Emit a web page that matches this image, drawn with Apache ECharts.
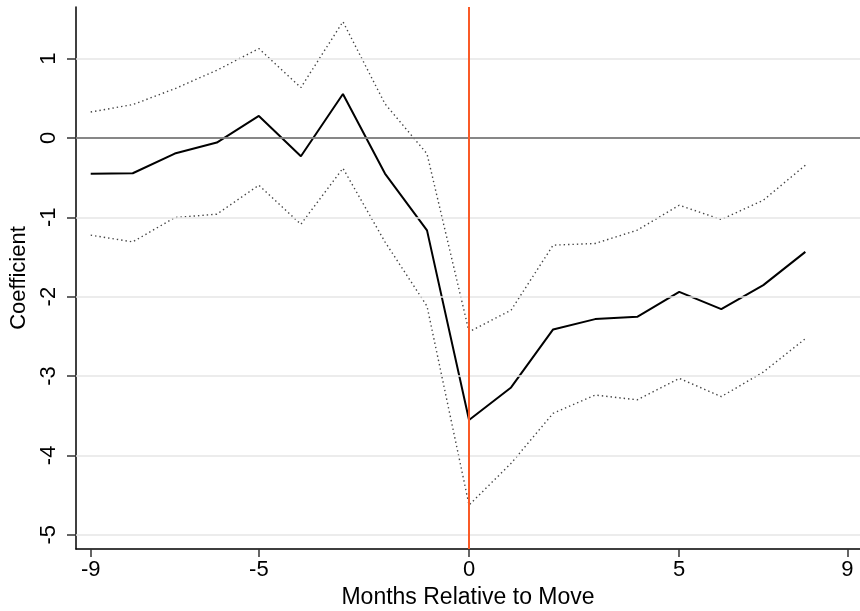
<!DOCTYPE html>
<html>
<head>
<meta charset="utf-8">
<script src="https://cdn.jsdelivr.net/npm/echarts@6/dist/echarts.min.js"></script>
<style>
  html, body { margin: 0; padding: 0; background: #fff; }
  #chart { width: 860px; height: 611px; }
</style>
</head>
<body>
<div id="chart"></div>
<script>
// Event-study estimates: months relative to a move, point estimate and confidence bounds
const months = [-9, -8, -7, -6, -5, -4, -3, -2, -1, 0, 1, 2, 3, 4, 5, 6, 7, 8];
const coefficient = [-0.45, -0.445, -0.197, -0.058, 0.277, -0.23, 0.554, -0.449, -1.165,
                     -3.555, -3.144, -2.413, -2.283, -2.254, -1.939, -2.157, -1.855, -1.436];
const upperBound = [0.327, 0.42, 0.62, 0.853, 1.126, 0.635, 1.465, 0.43, -0.2,
                    -2.443, -2.17, -1.351, -1.33, -1.162, -0.848, -1.028, -0.785, -0.344];
const lowerBound = [-1.225, -1.31, -1.003, -0.961, -0.596, -1.087, -0.382, -1.31, -2.12,
                    -4.626, -4.10, -3.47, -3.24, -3.30, -3.03, -3.26, -2.95, -2.53];
const xTicks = [-9, -5, 0, 5, 9];
const yTicks = [1, 0, -1, -2, -3, -4, -5];
const eventMonth = 0;
const referenceLevel = 0;

const pairs = ys => months.map((m, i) => [m, ys[i]]);
const FONT = '"Liberation Sans", Arial, sans-serif';

const chart = echarts.init(document.getElementById('chart'), null, { renderer: 'canvas' });

const option = {
  animation: false,
  backgroundColor: '#ffffff',
  grid: { left: 76, right: 0, top: 7, bottom: 62, containLabel: false, outerBoundsMode: 'none' },
  xAxis: {
    type: 'value',
    min: -9.35,
    max: 9.3,
    name: 'Months Relative to Move',
    nameLocation: 'middle',
    nameGap: 35,
    nameTextStyle: { fontFamily: FONT, fontSize: 23, color: '#000' },
    axisLine: { onZero: false, lineStyle: { color: '#000', width: 1.5 } },
    axisTick: { customValues: xTicks, length: 8, lineStyle: { color: '#333', width: 1.5 } },
    axisLabel: { customValues: xTicks, fontFamily: FONT, fontSize: 22, color: '#000', margin: 10 },
    splitLine: { show: false }
  },
  yAxis: {
    type: 'value',
    min: -5.18,
    max: 1.65,
    name: 'Coefficient',
    nameLocation: 'middle',
    nameGap: 39,
    nameRotate: 90,
    nameTextStyle: { fontFamily: FONT, fontSize: 22, color: '#000' },
    axisLine: { onZero: false, lineStyle: { color: '#000', width: 1.5 } },
    axisTick: { customValues: yTicks, length: 9, lineStyle: { color: '#333', width: 1.5 } },
    axisLabel: { customValues: yTicks, rotate: 90, fontFamily: FONT, fontSize: 22, color: '#000', margin: 16 },
    splitLine: { show: false }
  },
  series: [
    {
      // horizontal gridlines at the labelled ticks
      type: 'line',
      data: [],
      silent: true,
      z: 1,
      markLine: {
        silent: true,
        symbol: ['none', 'none'],
        label: { show: false },
        lineStyle: { color: '#e6e6e6', width: 1.5, type: 'solid' },
        data: yTicks.map(v => ({ yAxis: v }))
      }
    },
    {
      // zero reference line and the month-of-move marker
      type: 'line',
      data: [],
      silent: true,
      z: 2,
      markLine: {
        silent: true,
        symbol: ['none', 'none'],
        label: { show: false },
        data: [
          { yAxis: referenceLevel, lineStyle: { color: '#666666', width: 1.5, type: 'solid' } },
          { xAxis: eventMonth, lineStyle: { color: '#fa5a26', width: 2, type: 'solid' } }
        ]
      }
    },
    {
      name: 'Upper bound',
      type: 'line',
      data: pairs(upperBound),
      showSymbol: false,
      z: 3,
      lineStyle: { color: '#444444', width: 1.4, type: [1.4, 3] }
    },
    {
      name: 'Lower bound',
      type: 'line',
      data: pairs(lowerBound),
      showSymbol: false,
      z: 3,
      lineStyle: { color: '#444444', width: 1.4, type: [1.4, 3] }
    },
    {
      name: 'Coefficient',
      type: 'line',
      data: pairs(coefficient),
      showSymbol: false,
      z: 4,
      lineStyle: { color: '#000000', width: 2 }
    }
  ]
};

chart.setOption(option);
</script>
</body>
</html>
